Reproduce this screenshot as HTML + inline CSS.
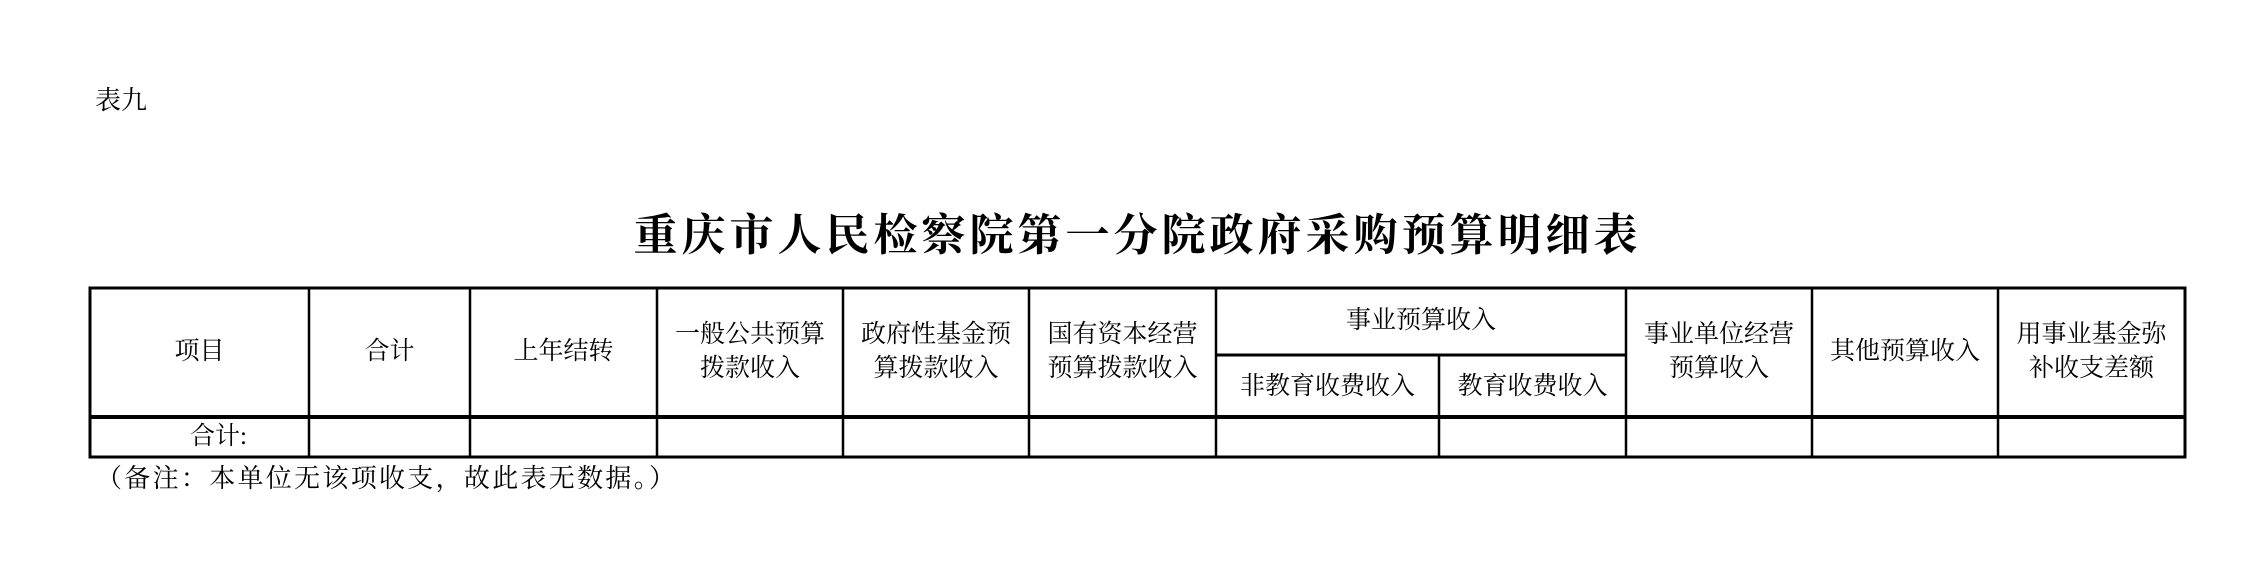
<!DOCTYPE html>
<html><head><meta charset="utf-8"><style>
body{margin:0;width:2259px;height:573px;background:#fff;position:relative;overflow:hidden;font-family:"Liberation Serif","Noto Serif CJK SC","Noto Sans CJK SC",serif;color:#000}
.t{position:absolute;white-space:nowrap;text-align:center;line-height:34px;font-size:25px}
</style></head><body>
<div class="t" style="left:0;width:2259px;top:84px;font-size:26px;text-align:left;text-indent:95px">表九</div>
<div class="t" style="left:8px;width:2259px;top:203px;font-size:44px;line-height:56px;letter-spacing:4px;font-weight:bold;font-family:'Noto Serif CJK SC',serif">重庆市人民检察院第一分院政府采购预算明细表</div>
<svg style="position:absolute;left:0;top:0" width="2259" height="573">
<g stroke="#000" fill="none">
<rect x="90" y="288" width="2095" height="169" stroke-width="3"/>
<line x1="90" y1="417" x2="2185" y2="417" stroke-width="4"/>
<line x1="1216" y1="355" x2="1626" y2="355" stroke-width="3"/>
<g stroke-width="2.5">
<line x1="309" y1="288" x2="309" y2="457"/>
<line x1="470" y1="288" x2="470" y2="457"/>
<line x1="657" y1="288" x2="657" y2="457"/>
<line x1="843" y1="288" x2="843" y2="457"/>
<line x1="1029" y1="288" x2="1029" y2="457"/>
<line x1="1216" y1="288" x2="1216" y2="457"/>
<line x1="1439" y1="355" x2="1439" y2="457"/>
<line x1="1626" y1="288" x2="1626" y2="457"/>
<line x1="1812" y1="288" x2="1812" y2="457"/>
<line x1="1998" y1="288" x2="1998" y2="457"/>
</g></g></svg>
<div class="t" style="left:90px;width:219px;top:335px">项目</div>
<div class="t" style="left:309px;width:161px;top:335px">合计</div>
<div class="t" style="left:470px;width:187px;top:335px">上年结转</div>
<div class="t" style="left:657px;width:186px;top:318px">一般公共预算<br>拨款收入</div>
<div class="t" style="left:843px;width:186px;top:318px">政府性基金预<br>算拨款收入</div>
<div class="t" style="left:1029px;width:187px;top:318px">国有资本经营<br>预算拨款收入</div>
<div class="t" style="left:1216px;width:410px;top:304px">事业预算收入</div>
<div class="t" style="left:1216px;width:223px;top:370px">非教育收费收入</div>
<div class="t" style="left:1439px;width:187px;top:370px">教育收费收入</div>
<div class="t" style="left:1626px;width:186px;top:318px">事业单位经营<br>预算收入</div>
<div class="t" style="left:1812px;width:186px;top:335px">其他预算收入</div>
<div class="t" style="left:1998px;width:187px;top:318px">用事业基金弥<br>补收支差额</div>
<div class="t" style="left:90px;width:219px;top:420px;text-align:left;text-indent:100px">合计:</div>
<div class="t" style="left:96px;top:462px;text-align:left;font-size:26px;letter-spacing:2.3px">（备注：本单位无该项收支，故此表无数据。）</div>
</body></html>
